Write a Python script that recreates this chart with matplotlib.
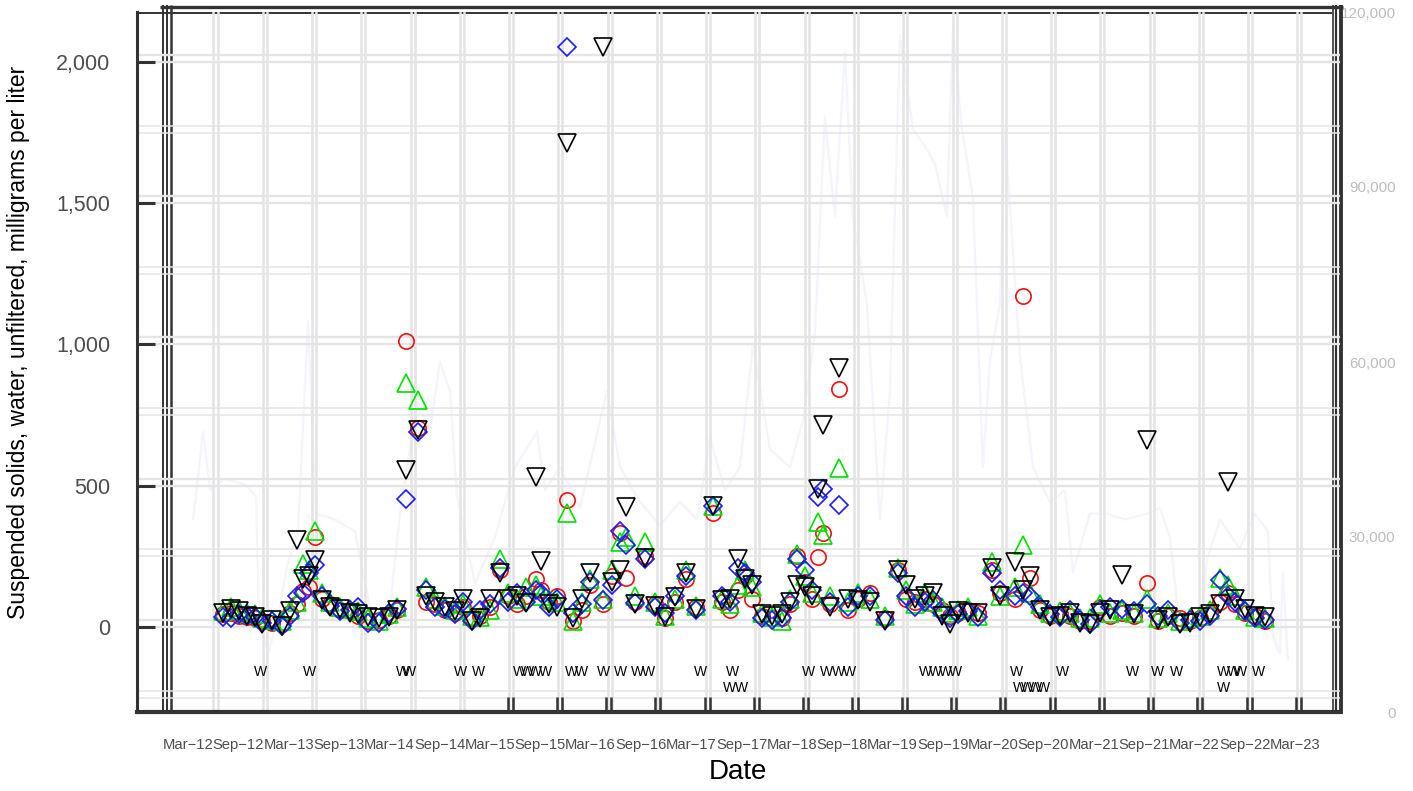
import numpy as np
import matplotlib.pyplot as plt
from matplotlib.lines import Line2D

plt.rcParams['font.family'] = ['Liberation Sans', 'DejaVu Sans']

# sample dates, decimal years
sample_year = [
    2012.51, 2012.59, 2012.67, 2012.75, 2012.83, 2012.90, 2013.00, 2013.10, 2013.18, 2013.25,
    2013.31, 2013.37, 2013.43, 2013.50, 2013.58, 2013.68, 2013.78, 2013.86, 2013.96, 2014.06,
    2014.16, 2014.24, 2014.33, 2014.45, 2014.53, 2014.62, 2014.72, 2014.82, 2014.90, 2014.99,
    2015.07, 2015.17, 2015.27, 2015.35, 2015.44, 2015.53, 2015.62, 2015.67, 2015.75, 2015.83,
    2015.93, 2015.99, 2016.08, 2016.16, 2016.29, 2016.38, 2016.46, 2016.52, 2016.61, 2016.71,
    2016.81, 2016.91, 2017.01, 2017.11, 2017.21, 2017.38, 2017.47, 2017.55, 2017.63, 2017.70,
    2017.77, 2017.87, 2017.97, 2018.07, 2018.15, 2018.22, 2018.30, 2018.37, 2018.43, 2018.48,
    2018.55, 2018.64, 2018.72, 2018.82, 2018.94, 2019.09, 2019.22, 2019.30, 2019.39, 2019.49,
    2019.57, 2019.66, 2019.74, 2019.82, 2019.92, 2020.02, 2020.16, 2020.23, 2020.38, 2020.46,
    2020.53, 2020.63, 2020.73, 2020.83, 2020.93, 2021.03, 2021.13, 2021.23, 2021.33, 2021.45,
    2021.57, 2021.70, 2021.80, 2021.90, 2022.02, 2022.12, 2022.22, 2022.32, 2022.42, 2022.50,
    2022.57, 2022.67, 2022.77, 2022.87]

# suspended solids, mg/L, four records
ss_red = [
    45, 50, 40, 35, 30, 20, 15, 10, 50, 80,
    127, 140, 318, 100, 80, 60, 55, 40, 20, 25,
    40, 60, 1012, 704, 90, 80, 60, 50, 70, 30,
    40, 70, 200, 110, 80, 110, 170, 130, 90, 110,
    450, 20, 60, 150, 80, 180, 333, 175, 90, 250,
    80, 30, 90, 170, 70, 404, 90, 60, 130, 180,
    100, 40, 30, 30, 80, 250, 160, 100, 248, 333,
    80, 843, 60, 100, 120, 30, 200, 100, 90, 100,
    80, 60, 40, 50, 60, 50, 200, 120, 100, 1172,
    173, 60, 40, 45, 40, 20, 20, 70, 40, 50,
    40, 156, 20, 40, 30, 20, 30, 50, 90, 120,
    80, 50, 40, 20]
ss_green = [
    55, 70, 60, 50, 45, 30, 25, 20, 60, 90,
    223, 200, 340, 120, 90, 70, 65, 55, 30, 20,
    45, 70, 864, 804, 140, 100, 75, 60, 80, 40,
    35, 60, 240, 120, 100, 140, 150, 110, 100, 90,
    404, 20, 90, 170, 100, 200, 300, 320, 110, 300,
    90, 40, 100, 200, 75, 430, 100, 80, 150, 200,
    140, 50, 35, 20, 100, 260, 180, 120, 372, 326,
    110, 563, 90, 120, 100, 40, 210, 130, 80, 120,
    90, 70, 50, 60, 70, 40, 230, 110, 140, 290,
    120, 80, 50, 55, 50, 30, 30, 80, 50, 60,
    50, 100, 30, 50, 20, 30, 40, 60, 173, 150,
    110, 60, 35, 30]
ss_blue = [
    35, 30, 45, 40, 35, 15, 20, 5, 40, 110,
    120, 190, 220, 110, 75, 55, 60, 70, 15, 15,
    50, 65, 453, 690, 130, 70, 65, 45, 90, 20,
    60, 80, 210, 90, 120, 90, 130, 120, 70, 100,
    2053, 50, 80, 160, 95, 150, 340, 290, 85, 240,
    70, 50, 110, 180, 60, 430, 110, 90, 210, 190,
    160, 30, 25, 30, 90, 240, 200, 130, 460, 490,
    90, 432, 70, 110, 110, 25, 190, 110, 70, 90,
    95, 50, 30, 45, 55, 35, 190, 130, 110, 120,
    110, 70, 45, 35, 60, 25, 10, 60, 70, 65,
    55, 80, 40, 60, 15, 25, 20, 40, 166, 110,
    90, 55, 30, 25]
ss_black = [
    50, 65, 55, 40, 35, 10, 25, 5, 55, 308,
    170, 180, 237, 95, 70, 65, 50, 45, 35, 30,
    35, 60, 556, 697, 110, 90, 70, 55, 100, 20,
    30, 100, 190, 100, 110, 85, 531, 235, 80, 70,
    1713, 30, 100, 190, 2053, 160, 200, 425, 80, 245,
    75, 35, 105, 190, 65, 430, 95, 100, 240, 170,
    150, 45, 40, 45, 90, 150, 140, 110, 490, 715,
    70, 917, 100, 95, 90, 20, 200, 150, 100, 110,
    120, 40, 10, 55, 50, 50, 210, 110, 230, 130,
    180, 60, 35, 40, 50, 15, 10, 50, 60, 185,
    45, 662, 25, 35, 10, 15, 35, 45, 80, 513,
    100, 65, 40, 35]

# remark "W" labels along the bottom (two rows)
w_year_row1 = [2012.89, 2013.37, 2014.30, 2014.37, 2014.87, 2015.05, 2015.46, 2015.54, 2015.62,
               2015.72, 2015.98, 2016.08, 2016.30, 2016.46, 2016.63, 2016.74, 2017.26, 2017.58,
               2018.33, 2018.51, 2018.63, 2018.74, 2019.49, 2019.59, 2019.69, 2019.79, 2020.40,
               2020.86, 2021.55, 2021.80, 2021.99, 2022.46, 2022.55, 2022.62, 2022.80]
w_year_row2 = [2017.55, 2017.67, 2020.43, 2020.51, 2020.59, 2020.67, 2022.46]

# streamflow, right axis
flow_year = [
    2012.217, 2012.316, 2012.386, 2012.535, 2012.733, 2012.843, 2012.872, 2012.962, 2013.061, 2013.150,
    2013.260, 2013.359, 2013.439, 2013.627, 2013.826, 2013.995, 2014.174, 2014.273, 2014.442, 2014.571,
    2014.670, 2014.770, 2014.839, 2015.018, 2015.217, 2015.416, 2015.634, 2015.714, 2015.863, 2016.061,
    2016.330, 2016.459, 2016.657, 2016.856, 2017.055, 2017.224, 2017.353, 2017.502, 2017.651, 2017.780,
    2017.949, 2018.148, 2018.277, 2018.396, 2018.495, 2018.594, 2018.694, 2018.773, 2018.912, 2019.042,
    2019.141, 2019.240, 2019.369, 2019.488, 2019.588, 2019.707, 2019.767, 2019.856, 2019.966, 2020.065,
    2020.134, 2020.234, 2020.283, 2020.432, 2020.562, 2020.730, 2020.880, 2020.959, 2021.128, 2021.297,
    2021.476, 2021.694, 2021.823, 2021.923, 2021.992, 2022.071, 2022.221, 2022.290, 2022.419, 2022.618,
    2022.767, 2022.896, 2022.946, 2023.016, 2023.045, 2023.095]
flow_val = [
    33000, 48000, 38000, 40000, 39000, 37000, 16000, 10000, 16000, 25000,
    31000, 67000, 34000, 33000, 31000, 16000, 18000, 34000, 53000, 48000,
    60000, 55000, 37000, 22000, 30000, 42000, 48000, 38000, 42000, 35000,
    55000, 42000, 36000, 32000, 36000, 33000, 47000, 38000, 42000, 63000,
    45000, 42000, 50000, 65000, 102000, 85000, 113000, 85000, 70000, 33000,
    55000, 116000, 100000, 97000, 94000, 85000, 117000, 100000, 88000, 42000,
    60000, 70000, 100000, 61000, 42000, 36000, 38000, 24000, 34000, 34000,
    33000, 34000, 35000, 30000, 19000, 13000, 13000, 26000, 33000, 28000,
    34000, 31000, 13000, 10000, 24000, 9000]

date_labels = ['Mar\u221212', 'Sep\u221212', 'Mar\u221213', 'Sep\u221213', 'Mar\u221214', 'Sep\u221214',
               'Mar\u221215', 'Sep\u221215', 'Mar\u221216', 'Sep\u221216', 'Mar\u221217', 'Sep\u221217',
               'Mar\u221218', 'Sep\u221218', 'Mar\u221219', 'Sep\u221219', 'Mar\u221220', 'Sep\u221220',
               'Mar\u221221', 'Sep\u221221', 'Mar\u221222', 'Sep\u221222', 'Mar\u221223']
left_ticks = [0, 500, 1000, 1500, 2000]
right_ticks = [0, 30000, 60000, 90000, 120000]

W, H = 1413, 791
fig = plt.figure(figsize=(W / 100, H / 100), dpi=100)


def fx(px):
    return px / W


def fy(py):
    return 1 - py / H


rect = [fx(137), fy(712), fx(1340) - fx(137), fy(12) - fy(712)]
ax = fig.add_axes(rect)
ax2 = ax.twinx()
ax.set_zorder(2)
ax.patch.set_visible(False)

ax.set_xlim(2011.66, 2023.613)
ax.set_ylim(-301, 2177)
ax2.set_ylim(0, 120000)

# grid, doubled lines like the original
gcol = '#e4e4e4'
for v in np.arange(-250, 2001, 250):
    lw = 1.7 if v % 500 == 0 else 1.1
    ax.axhline(v, color=gcol, lw=lw, zorder=0)
    ax.axhline(v + 25, color=gcol, lw=lw, zorder=0)
grid_x = np.linspace(2012.42, 2023.19, 23)
for g in grid_x:
    ax.axvline(g, color=gcol, lw=1.8, zorder=0)
    ax.axvline(g + 0.04, color=gcol, lw=1.8, zorder=0)
for g in grid_x[6:]:
    ax.vlines([g - 0.015, g + 0.035], 0, 15 / 700, transform=ax.get_xaxis_transform(),
              color='#333333', lw=1.8, zorder=3)

# streamflow
ax2.plot(flow_year, flow_val, color='#f4f4fd', lw=1.6, zorder=1)

# samples
mk = dict(linestyle='none', mfc='none', mew=1.2, zorder=4)
ax.plot(sample_year, ss_red, marker='o', ms=11, mec='#ee1111', **mk)
ax.plot(sample_year, ss_green, marker='^', ms=13, mec='#00e000', **mk)
ax.plot(sample_year, ss_blue, marker='D', ms=9.5, mec='#1a1aff', **mk)
ax.plot(sample_year, ss_black, marker='v', ms=13, mec='black', **mk)

for yr in w_year_row1:
    ax.text(yr, -159, 'W', ha='center', va='center', fontsize=10, zorder=5)
for yr in w_year_row2:
    ax.text(yr, -216, 'W', ha='center', va='center', fontsize=10, zorder=5)

# axes styling
for s in ['top', 'right']:
    ax.spines[s].set_visible(False)
for s in ax2.spines.values():
    s.set_visible(False)
ax.spines['left'].set_color('#333333')
ax.spines['left'].set_linewidth(2.2)
ax.spines['bottom'].set_color('#333333')
ax.spines['bottom'].set_linewidth(3)

ax.set_xticks([2012 + 2 / 12 + 0.5 * i for i in range(len(date_labels))])
ax.set_xticklabels(date_labels)
ax.tick_params(axis='x', length=0, pad=19, labelsize=10.6, labelcolor='#4d4d4d')
ax.set_yticks(left_ticks)
ax.set_yticklabels([f'{t:,}' for t in left_ticks])
ax.tick_params(axis='y', direction='in', length=13, width=2.2, color='#333333',
               pad=19, labelsize=15.5, labelcolor='#4d4d4d')
ax2.set_yticks(right_ticks)
ax2.set_yticklabels([f'{t:,}' for t in right_ticks])
ax2.tick_params(axis='y', length=0, pad=40, labelsize=11, labelcolor='#bdbdbd')
for lab in ax2.get_yticklabels():
    lab.set_horizontalalignment('right')

# extra panel frames
def frame_line(x0, y0, x1, y1, lw):
    fig.add_artist(Line2D([fx(x0), fx(x1)], [fy(y0), fy(y1)], transform=fig.transFigure,
                          color='#333333', lw=lw, solid_capstyle='butt'))


frame_line(160, 6.5, 1343, 6.5, 2.4)
frame_line(137, 13, 1332, 13, 1.4)
for xx, lw in [(162.5, 1.4), (166.5, 1.4), (170.5, 1.8)]:
    frame_line(xx, 5, xx, 712, lw)
for xx, lw in [(1332.5, 1.2), (1336, 1.6), (1341, 2.8)]:
    frame_line(xx, 5, xx, 714, lw)

fig.text(fx(738), fy(772), 'Date', ha='center', va='center', fontsize=20)
fig.text(fx(19), fy(342), 'Suspended solids, water, unfiltered, milligrams per liter',
         ha='center', va='center', rotation=90, fontsize=16.5)

fig.savefig('out.png', dpi=100)
